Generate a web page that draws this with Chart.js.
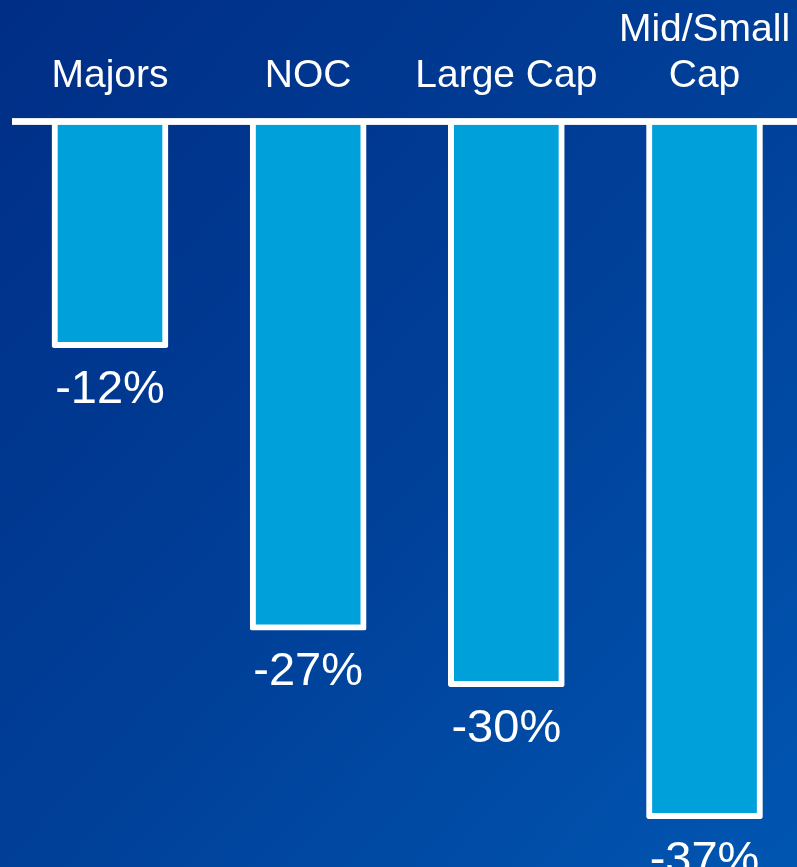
<!DOCTYPE html>
<html>
<head>
<meta charset="utf-8">
<style>
  html, body { margin: 0; padding: 0; overflow: hidden; }
  body {
    width: 797px; height: 867px;
    background: linear-gradient(to bottom right, #002e86 0%, #003f98 50%, #0056b1 100%);
  }
  canvas { display: block; }
</style>
<script src="https://cdn.jsdelivr.net/npm/chart.js@4/dist/chart.umd.min.js"></script>
</head>
<body>
<canvas id="chart" width="797" height="867"></canvas>
<script>
// Segments and their change in value (%)
const categories = [["Majors"], ["NOC"], ["Large Cap"], ["Mid/Small", "Cap"]];
const changes = [-12, -27, -30, -37];
const valueLabels = ["-12%", "-27%", "-30%", "-37%"];

const FONT = '"Liberation Sans", Arial, Helvetica, sans-serif';

// White zero line across the top of the bars
const zeroLine = {
  id: 'zeroLine',
  afterDatasetsDraw(chart) {
    const ctx = chart.ctx;
    const y = chart.scales.y.getPixelForValue(0);
    ctx.save();
    ctx.fillStyle = '#ffffff';
    ctx.fillRect(12, y - 3.4, chart.width - 12, 6.8);
    ctx.restore();
  }
};

// Segment names above the line and value labels under each bar
const textLabels = {
  id: 'textLabels',
  afterDraw(chart) {
    const ctx = chart.ctx;
    const meta = chart.getDatasetMeta(0);
    const xs = chart.scales.x;
    ctx.save();
    ctx.fillStyle = '#ffffff';
    ctx.textAlign = 'center';
    ctx.textBaseline = 'alphabetic';

    ctx.font = '39px ' + FONT;
    categories.forEach((lines, i) => {
      const x = xs.getPixelForValue(i);
      const last = 87;
      lines.forEach((line, j) => {
        ctx.fillText(line, x, last - (lines.length - 1 - j) * 46);
      });
    });

    ctx.font = '47px ' + FONT;
    meta.data.forEach((bar, i) => {
      ctx.fillText(valueLabels[i], bar.x, bar.y + 55);
    });
    ctx.restore();
  }
};

new Chart(document.getElementById('chart'), {
  type: 'bar',
  data: {
    labels: categories.map(c => c.join(' ')),
    datasets: [{
      data: changes,
      backgroundColor: '#00a0da',
      borderColor: '#ffffff',
      borderWidth: 6,
      borderSkipped: 'start',
      borderRadius: 2,
      barThickness: 116,
      clip: false
    }]
  },
  options: {
    responsive: false,
    animation: false,
    devicePixelRatio: 1,
    layout: { padding: { left: 110, right: 92.5, top: 121.5, bottom: 0 } },
    plugins: { legend: { display: false }, tooltip: { enabled: false } },
    scales: {
      x: { display: false, offset: false, grid: { offset: false } },
      y: { display: false, min: -39.57, max: 0 }
    }
  },
  plugins: [zeroLine, textLabels]
});
</script>
</body>
</html>
